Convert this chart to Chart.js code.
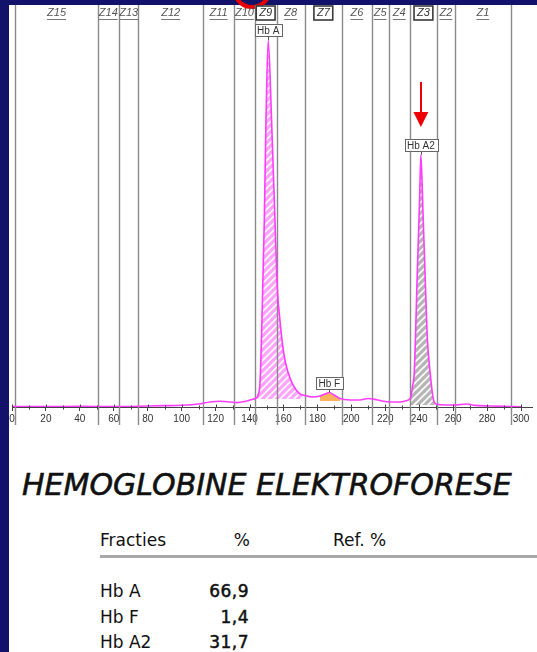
<!DOCTYPE html>
<html>
<head>
<meta charset="utf-8">
<script src="https://cdn.jsdelivr.net/npm/chart.js@4"></script>
<style>
  html, body { margin: 0; padding: 0; }
  body { width: 537px; height: 652px; background: #12126a; position: relative; overflow: hidden; font-family: "DejaVu Sans", sans-serif; color: #111; }
  .panel { position: absolute; left: 9px; top: 5px; right: 0; bottom: 0; background: #fff; }
  .ring { position: absolute; left: 232px; top: -31px; width: 32px; height: 32px; border: 4px solid #e60000; border-radius: 50%; }
  #chart { position: absolute; left: 0; top: 0; }
  .title { position: absolute; left: 22px; top: 470px; font-size: 30px; line-height: 30px; font-style: italic; white-space: nowrap; -webkit-text-stroke: 0.6px #111; }
  .t { position: absolute; font-size: 17px; line-height: 17px; white-space: nowrap; }
  .num { text-align: right; width: 60px; left: 189px; -webkit-text-stroke: 0.5px #111; letter-spacing: 0.5px; }
  .rule { position: absolute; left: 100px; right: 0; top: 555px; height: 3px; background: #a8a8a8; }
</style>
</head>
<body>
<div class="panel"></div>
<div class="ring"></div>
<canvas id="chart" width="537" height="440"></canvas>

<div class="title">HEMOGLOBINE ELEKTROFORESE</div>
<div class="t" style="left:100px;top:532px">Fracties</div>
<div class="t" style="left:190px;top:532px;width:60px;text-align:right">%</div>
<div class="t" style="left:333px;top:532px">Ref. %</div>
<div class="rule"></div>
<div id="rows"></div>

<script>
// migratie-positie (x) en intensiteit (y) van het elektroferogram
const traceX = [0, 20, 40, 60, 80, 90, 100, 110, 116.7, 122.6, 128.5, 132.6, 137.3, 140.3, 143.8,
  145, 146.2, 147.3, 148.7, 149.7, 151, 153, 155, 156.4, 158, 160.3, 162.6, 165.6, 169.7, 171.5,
  177.4, 181.5, 184.5, 187, 189.8, 193.3, 199.2, 205, 209.8, 213.9, 217, 222.8, 228.7, 232.8, 235.1,
  236, 237.1, 238.9, 240.2, 241, 242.2, 243.4, 244.8, 246.4, 248.3, 249.9, 255.2, 261.1, 268.1, 272.8,
  281.7, 293.5, 300];
const traceY = [0.1, 0.1, 0.15, 0.12, 0.25, 0.33, 0.43, 0.75, 1.25, 1.43, 1.25, 1.08, 1.38, 1.75, 2.25,
  3, 6.25, 21.25, 46.25, 71.25, 91.25, 71.25, 46.25, 29.5, 21.25, 13, 8.75, 5.5, 3.25, 3,
  2.5, 2.75, 3.25, 3.6, 3, 2.1, 1.75, 1.75, 2.1, 1.9, 1.6, 1.25, 1.25, 1.6, 2.5,
  5, 8.75, 33.75, 51.25, 62.75, 48.75, 33.75, 17, 8.75, 2, 0.75, 0.5, 0.5, 0.75, 0.4,
  0.25, 0.12, 0.05];

// zones
const zoneEdges = [2, 50.5, 63, 74.5, 112.5, 131, 143, 156, 172.5, 194.5, 212, 222, 234.5, 250.5, 261, 294];
const zoneNames = ['Z15', 'Z14', 'Z13', 'Z12', 'Z11', 'Z10', 'Z9', 'Z8', 'Z7', 'Z6', 'Z5', 'Z4', 'Z3', 'Z2', 'Z1'];
const zoneBoxed = ['Z9', 'Z7', 'Z3'];

// fracties
const fracNames = ['Hb A', 'Hb F', 'Hb A2'];
const fracPct = ['66,9', '1,4', '31,7'];
const fracPeak = [151, 187, 241];
const fracFrom = [143, 181, 234.5];
const fracTo = [172.5, 194, 250.5];
const fracBase = [2, 1.5, 0.5];

const xTicks = [0, 20, 40, 60, 80, 100, 120, 140, 160, 180, 200, 220, 240, 260, 280, 300];
const xMinor = [10, 30, 50, 70, 90, 110, 130, 150, 170, 190, 210, 230, 250, 270, 290];

// tabel onderaan
const rowTops = [583, 609, 634];
document.getElementById('rows').innerHTML = fracNames.map((n, i) => `
  <div class="t" style="left:100px;top:${rowTops[i]}px">${n}</div>
  <div class="t num" style="top:${rowTops[i]}px">${fracPct[i]}</div>
`).join('');

function hatch(bg, stripe, size) {
  const c = document.createElement('canvas');
  c.width = size; c.height = size;
  const g = c.getContext('2d');
  g.fillStyle = bg; g.fillRect(0, 0, size, size);
  g.strokeStyle = stripe; g.lineWidth = 1.6;
  g.beginPath();
  g.moveTo(0, size); g.lineTo(size, 0);
  g.moveTo(-2, 2); g.lineTo(2, -2);
  g.moveTo(size - 2, size + 2); g.lineTo(size + 2, size - 2);
  g.stroke();
  return g.createPattern(c, 'repeat');
}

const points = traceX.map((x, i) => ({ x: x, y: traceY[i] }));
const fillColors = [hatch('#ffa4ff', '#ffffff', 7), '#ffb35c', hatch('#b6b6b6', '#ffffff', 7)];

const fillSets = fracNames.map((n, i) => ({
  label: n,
  data: points.filter(p => p.x >= fracFrom[i] && p.x <= fracTo[i]),
  borderWidth: 0,
  pointRadius: 0,
  backgroundColor: fillColors[i],
  fill: { value: fracBase[i] },
  cubicInterpolationMode: 'monotone',
  order: 2,
}));

const zonePlugin = {
  id: 'zones',
  beforeDatasetDraw(chart, args) {
    if (args.index !== 0) return;
    const { ctx, chartArea } = chart;
    const sx = chart.scales.x;
    ctx.save();
    ctx.strokeStyle = '#8a8a8a';
    ctx.lineWidth = 1.4;
    zoneEdges.forEach(v => {
      const px = Math.round(sx.getPixelForValue(v)) + 0.5;
      ctx.beginPath();
      ctx.moveTo(px, chartArea.top);
      ctx.lineTo(px, chartArea.bottom + 18);
      ctx.stroke();
    });
    ctx.restore();
  },
  afterDraw(chart) {
    const { ctx, chartArea } = chart;
    const sx = chart.scales.x;
    const sy = chart.scales.y;
    const yb = chartArea.bottom + 0.5;
    ctx.save();
    // as doorgetrokken voorbij 300 + streepjes boven de as
    ctx.strokeStyle = '#444';
    ctx.lineWidth = 1;
    ctx.beginPath();
    ctx.moveTo(chartArea.right, yb);
    ctx.lineTo(chartArea.right + 12, yb);
    xTicks.forEach(v => {
      const px = Math.round(sx.getPixelForValue(v)) + 0.5;
      ctx.moveTo(px, yb - 3); ctx.lineTo(px, yb);
    });
    xMinor.forEach(v => {
      const px = Math.round(sx.getPixelForValue(v)) + 0.5;
      ctx.moveTo(px, yb - 2); ctx.lineTo(px, yb + 2);
    });
    ctx.stroke();

    // zone labels
    ctx.font = 'italic 11px "Liberation Sans"';
    ctx.textAlign = 'center';
    ctx.textBaseline = 'middle';
    zoneNames.forEach((z, i) => {
      const cx = (sx.getPixelForValue(zoneEdges[i]) + sx.getPixelForValue(zoneEdges[i + 1])) / 2;
      const w = ctx.measureText(z).width;
      const cy = 13;
      if (zoneBoxed.includes(z)) {
        ctx.fillStyle = '#fff';
        ctx.fillRect(cx - w / 2 - 3, cy - 7, w + 6, 14);
        ctx.strokeStyle = '#3a3a3a';
        ctx.lineWidth = 1.6;
        ctx.strokeRect(cx - w / 2 - 3, cy - 7, w + 6, 14);
        ctx.fillStyle = '#333';
        ctx.fillText(z, cx, cy);
      } else {
        ctx.fillStyle = '#555';
        ctx.fillText(z, cx, cy);
        ctx.strokeStyle = '#777';
        ctx.lineWidth = 1;
        ctx.beginPath();
        ctx.moveTo(cx - w / 2, cy + 6.5);
        ctx.lineTo(cx + w / 2, cy + 6.5);
        ctx.stroke();
      }
    });

    // piek labels
    ctx.font = '10px "Liberation Sans"';
    fracNames.forEach((n, i) => {
      const near = points.filter(p => Math.abs(p.x - fracPeak[i]) <= 3);
      const top = near.reduce((a, b) => (b.y > a.y ? b : a));
      const px = sx.getPixelForValue(top.x);
      const py = sy.getPixelForValue(top.y);
      const w = ctx.measureText(n).width + 5;
      const bottom = Math.round(py - 4);
      const boxTop = bottom - 12;
      ctx.strokeStyle = '#555';
      ctx.lineWidth = 1;
      ctx.beginPath();
      ctx.moveTo(Math.round(px) + 0.5, bottom);
      ctx.lineTo(Math.round(px) + 0.5, py);
      ctx.stroke();
      ctx.fillStyle = '#fff';
      ctx.fillRect(Math.round(px - w / 2) + 0.5, boxTop + 0.5, Math.round(w), 12);
      ctx.strokeStyle = '#666';
      ctx.strokeRect(Math.round(px - w / 2) + 0.5, boxTop + 0.5, Math.round(w), 12);
      ctx.fillStyle = '#333';
      ctx.fillText(n, px, boxTop + 7);

      // rode pijl boven Hb A2
      if (n === 'Hb A2') {
        ctx.fillStyle = '#ee0000';
        ctx.fillRect(Math.round(px) - 1, boxTop - 57, 2, 32);
        ctx.beginPath();
        ctx.moveTo(px - 7.5, boxTop - 27);
        ctx.lineTo(px + 7.5, boxTop - 27);
        ctx.lineTo(px, boxTop - 12);
        ctx.closePath();
        ctx.fill();
      }
    });
    ctx.restore();
  }
};

new Chart(document.getElementById('chart'), {
  type: 'line',
  data: {
    datasets: [{
      label: 'trace',
      data: points,
      borderColor: '#ff3cff',
      borderWidth: 1.6,
      pointRadius: 0,
      fill: false,
      cubicInterpolationMode: 'monotone',
      order: 0,
    }].concat(fillSets),
  },
  options: {
    responsive: false,
    animation: false,
    layout: { padding: { left: 12, right: 16, top: 5, bottom: 13 } },
    plugins: { legend: { display: false }, tooltip: { enabled: false } },
    scales: {
      x: {
        type: 'linear', min: 0, max: 300,
        afterBuildTicks: (s) => { s.ticks = xTicks.map(v => ({ value: v })); },
        ticks: { padding: 2, color: '#333', maxRotation: 0, autoSkip: false,
                 font: { family: 'Liberation Sans', size: 10 } },
        grid: { drawOnChartArea: false, tickLength: 4, color: '#444' },
        border: { color: '#444' },
      },
      y: { display: false, min: 0, max: 100 },
    },
  },
  plugins: [zonePlugin],
});
</script>
</body>
</html>
